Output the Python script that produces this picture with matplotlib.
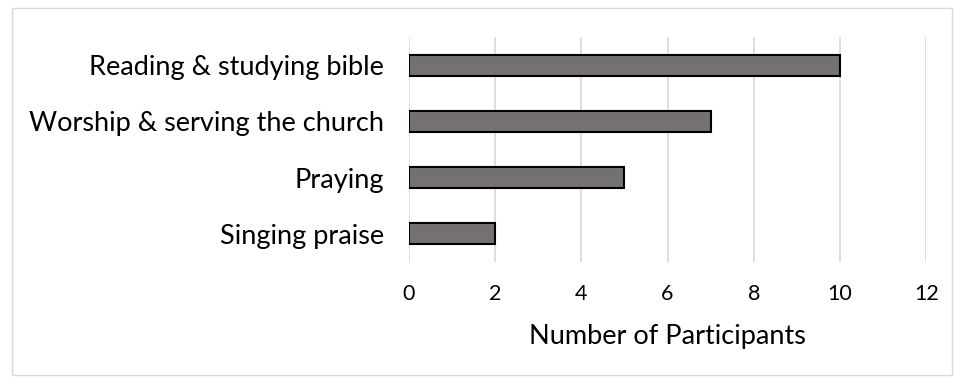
import matplotlib.pyplot as plt
from matplotlib.patches import Rectangle

activities = ["Reading & studying bible", "Worship & serving the church", "Praying", "Singing praise"]
participants = [10, 7, 5, 2]
ticks = [0, 2, 4, 6, 8, 10, 12]

plt.rcParams['font.family'] = ['Lato', 'DejaVu Sans']

fig = plt.figure(figsize=(9.55, 3.79), dpi=100)
ax = fig.add_axes([0.428, 0.309, 0.542, 0.593])

ypos = list(range(len(activities)))[::-1]
ax.barh(ypos, participants, height=0.37, color="#767171", edgecolor="black", linewidth=1.5, zorder=3)

ax.set_xlim(0, 12)
ax.set_ylim(-0.5, 3.5)
ax.set_xticks(ticks)
ax.set_xticklabels([str(t) for t in ticks], fontsize=15.5)
ax.set_yticks(ypos)
ax.set_yticklabels(activities, fontsize=19.5)
ax.tick_params(axis="y", length=0, pad=18)
ax.tick_params(axis="x", length=0, pad=16)
ax.grid(axis="x", color="#d9d9d9", linewidth=1.2, zorder=0)
for s in ax.spines.values():
    s.set_visible(False)
ax.set_xlabel("Number of Participants", fontsize=19.5, labelpad=14)

# thin frame round the whole chart
fig.patches.append(Rectangle((12 / 955, 4 / 379), 940 / 955, 367 / 379, transform=fig.transFigure,
                             fill=False, edgecolor="#d9d9d9", linewidth=1))

fig.savefig("out.png", dpi=100)
